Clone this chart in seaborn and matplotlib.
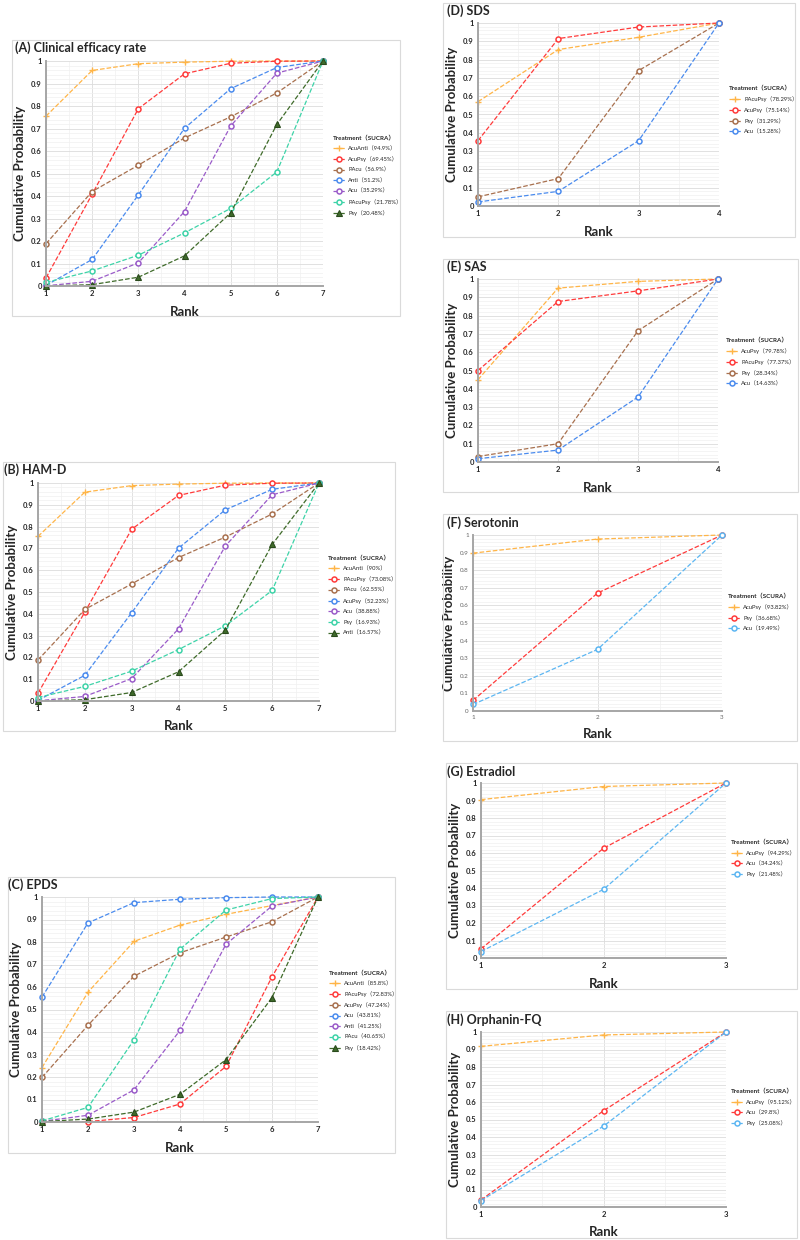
import numpy as np
import pandas as pd
import seaborn as sns
import matplotlib.pyplot as plt
from matplotlib.patches import Rectangle
from matplotlib.ticker import MultipleLocator, FormatStrFormatter

# ---- data (cumulative rank probabilities) ----
ranks7 = [1, 2, 3, 4, 5, 6, 7]
ranks4 = [1, 2, 3, 4]
ranks3 = [1, 2, 3]

# (A) clinical efficacy rate / (B) HAM-D share the same curves
eff_acuanti = [0.755, 0.958, 0.988, 0.995, 0.999, 1.0, 1.0]
eff_acupsy = [0.036, 0.408, 0.788, 0.943, 0.990, 0.999, 1.0]
eff_pacu = [0.188, 0.420, 0.537, 0.658, 0.752, 0.858, 1.0]
eff_anti = [0.003, 0.118, 0.405, 0.701, 0.877, 0.971, 1.0]
eff_acu = [0.001, 0.021, 0.103, 0.331, 0.711, 0.946, 1.0]
eff_pacupsy = [0.016, 0.067, 0.137, 0.236, 0.345, 0.507, 1.0]
eff_psy = [0.0, 0.006, 0.039, 0.134, 0.325, 0.718, 1.0]
labels_a = ['AcuAnti（94.9%）', 'AcuPsy（69.45%）', 'PAcu（56.9%）', 'Anti（51.2%）',
            'Acu（35.29%）', 'PAcuPsy（21.78%）', 'Psy（20.48%）']
labels_b = ['AcuAnti（90%）', 'PAcuPsy（73.08%）', 'PAcu（62.55%）', 'AcuPsy（52.23%）',
            'Acu（38.88%）', 'Psy（16.93%）', 'Anti（16.57%）']

# (C) EPDS
epds_acuanti = [0.242, 0.577, 0.803, 0.875, 0.923, 0.962, 1.0]
epds_pacupsy = [0.0, 0.002, 0.020, 0.080, 0.247, 0.645, 1.0]
epds_acupsy = [0.198, 0.430, 0.648, 0.752, 0.822, 0.890, 1.0]
epds_acu = [0.555, 0.885, 0.975, 0.990, 0.997, 1.0, 1.0]
epds_anti = [0.003, 0.030, 0.143, 0.407, 0.790, 0.960, 1.0]
epds_pacu = [0.005, 0.065, 0.365, 0.768, 0.942, 0.993, 1.0]
epds_psy = [0.002, 0.013, 0.044, 0.123, 0.277, 0.553, 1.0]
labels_c = ['AcuAnti（85.8%）', 'PAcuPsy（72.83%）', 'AcuPsy（47.24%）', 'Acu（43.81%）',
            'Anti（41.25%）', 'PAcu（40.65%）', 'Psy（18.42%）']

# (D) SDS
sds_pacupsy = [0.57, 0.855, 0.922, 1.0]
sds_acupsy = [0.357, 0.915, 0.978, 1.0]
sds_psy = [0.05, 0.15, 0.74, 1.0]
sds_acu = [0.022, 0.08, 0.357, 1.0]
labels_d = ['PAcuPsy（78.29%）', 'AcuPsy（75.14%）', 'Psy（31.29%）', 'Acu（15.28%）']

# (E) SAS
sas_acupsy = [0.45, 0.95, 0.987, 1.0]
sas_pacupsy = [0.50, 0.877, 0.935, 1.0]
sas_psy = [0.03, 0.10, 0.717, 1.0]
sas_acu = [0.018, 0.065, 0.355, 1.0]
labels_e = ['AcuPsy（79.78%）', 'PAcuPsy（77.37%）', 'Psy（28.34%）', 'Acu（14.63%）']

# (F) Serotonin
ser_acupsy = [0.897, 0.977, 1.0]
ser_psy = [0.06, 0.67, 1.0]
ser_acu = [0.037, 0.35, 1.0]
labels_f = ['AcuPsy（93.82%）', 'Psy（36.68%）', 'Acu（19.49%）']

# (G) Estradiol
est_acupsy = [0.905, 0.98, 1.0]
est_acu = [0.052, 0.627, 1.0]
est_psy = [0.037, 0.392, 1.0]
labels_g = ['AcuPsy（94.29%）', 'Acu（34.24%）', 'Psy（21.48%）']

# (H) Orphanin-FQ
orf_acupsy = [0.918, 0.983, 1.0]
orf_acu = [0.04, 0.55, 1.0]
orf_psy = [0.037, 0.462, 1.0]
labels_h = ['AcuPsy（95.12%）', 'Acu（29.8%）', 'Psy（25.08%）']

ORANGE = '#FFB547'
RED = '#FF3B3B'
BROWN = '#A8704E'
BLUE = '#4A8BEE'
PURPLE = '#9A5BC9'
TEAL = '#3DD3A8'
GREEN = '#3F6B2A'
LBLUE = '#5CB6F2'

sns.set_style('white')
plt.rcParams['font.family'] = ['Lato', 'Noto Sans CJK SC', 'DejaVu Sans']

W, H = 800, 1240
fig = plt.figure(figsize=(8, 12.4), dpi=100)


def fx(px):
    return px / W


def fy(py):
    return 1 - py / H


def panel(box, rect, title, title_xy, ranks, series, labels, colors, markers,
          leg_xy, leg_title, light_ticks=False):
    bx0, by0, bx1, by1 = box
    fig.patches.append(Rectangle((fx(bx0), fy(by1)), fx(bx1 - bx0), (by1 - by0) / H,
                                 transform=fig.transFigure, fill=False,
                                 edgecolor='#DADADA', linewidth=0.8))
    fig.text(fx(title_xy[0]), fy(title_xy[1]), title, fontsize=9, fontweight='bold',
             va='center', ha='left')
    l, t, r, b = rect
    ax = fig.add_axes([fx(l), fy(b), fx(r - l), (b - t) / H])
    for vals, lab, col, mk in zip(series, labels, colors, markers):
        df = pd.DataFrame({'Rank': ranks, 'p': vals})
        if mk == '+':
            kw = dict(marker='+', markersize=5, markeredgewidth=1.0,
                      markeredgecolor=col)
        elif mk == '^':
            kw = dict(marker='^', markersize=3.8, markerfacecolor=col,
                      markeredgecolor='#2A4A1C', markeredgewidth=0.8)
        else:
            kw = dict(marker='o', markersize=3.6, markerfacecolor='white',
                      markeredgecolor=col, markeredgewidth=1.1)
        sns.lineplot(data=df, x='Rank', y='p', ax=ax, color=col, linestyle='--',
                     linewidth=0.9, label=lab, clip_on=False, **kw)
    ax.set_xlim(ranks[0], ranks[-1])
    ax.set_ylim(0, 1)
    ax.xaxis.set_major_locator(MultipleLocator(1))
    ax.xaxis.set_minor_locator(MultipleLocator(0.5))
    ax.yaxis.set_major_locator(MultipleLocator(0.1))
    ax.yaxis.set_minor_locator(MultipleLocator(0.02))
    ax.yaxis.set_major_formatter(FormatStrFormatter('%g'))
    ax.grid(which='major', color='#DCDCDC', linewidth=0.6)
    ax.grid(which='minor', color='#F0F0F0', linewidth=0.5)
    ax.set_axisbelow(True)
    for s in ['top', 'right']:
        ax.spines[s].set_visible(False)
    for s in ['left', 'bottom']:
        ax.spines[s].set_color('#A6A6A6')
        ax.spines[s].set_linewidth(1.4)
    if light_ticks:
        ax.tick_params(axis='both', labelsize=4.5, labelcolor='#666666', length=0, pad=3)
    else:
        ax.tick_params(axis='both', labelsize=5.5, length=0, pad=3)
        for lb in ax.get_xticklabels() + ax.get_yticklabels():
            lb.set_fontweight('bold')
    ax.set_xlabel('Rank', fontsize=9.5, fontweight='bold', labelpad=6)
    ax.set_ylabel('Cumulative Probability', fontsize=9.5, fontweight='bold', labelpad=4)
    leg = ax.legend(loc='upper left', bbox_to_anchor=(fx(leg_xy[0]), fy(leg_xy[1])),
                    bbox_transform=fig.transFigure, frameon=False, fontsize=4.2,
                    title=leg_title, title_fontsize=4.5, alignment='left',
                    handlelength=2.2, handletextpad=0.4, labelspacing=0.85,
                    borderaxespad=0, borderpad=0)
    leg.get_title().set_fontweight('bold')
    return ax


cols7 = [ORANGE, RED, BROWN, BLUE, PURPLE, TEAL, GREEN]
mk7 = ['+', 'o', 'o', 'o', 'o', 'o', '^']
cols4 = [ORANGE, RED, BROWN, BLUE]
mk4 = ['+', 'o', 'o', 'o']
cols3 = [ORANGE, RED, LBLUE]
mk3 = ['+', 'o', 'o']

panel((12, 40, 400, 316), (46, 61, 323, 286), '(A) Clinical efficacy rate', (15, 48),
      ranks7, [eff_acuanti, eff_acupsy, eff_pacu, eff_anti, eff_acu, eff_pacupsy, eff_psy],
      labels_a, cols7, mk7, (333, 135), 'Treatment（SUCRA）')

panel((3, 462, 395, 731), (38, 483, 319, 701), '(B) HAM-D', (4, 470),
      ranks7, [eff_acuanti, eff_acupsy, eff_pacu, eff_anti, eff_acu, eff_pacupsy, eff_psy],
      labels_b, cols7, mk7, (328, 555), 'Treatment（SUCRA）')

panel((8, 877, 395, 1153), (42, 897, 318, 1122), '(C) EPDS', (8, 885),
      ranks7, [epds_acuanti, epds_pacupsy, epds_acupsy, epds_acu, epds_anti, epds_pacu, epds_psy],
      labels_c, cols7, mk7, (329, 970), 'Treatment（SUCRA）')

panel((443, 3, 795, 237), (478, 23, 719, 206), '(D) SDS', (447, 11),
      ranks4, [sds_pacupsy, sds_acupsy, sds_psy, sds_acu],
      labels_d, cols4, mk4, (729, 85), 'Treatment（SUCRA）')

panel((443, 259, 798, 492), (478, 279, 718, 462), '(E) SAS', (447, 267),
      ranks4, [sas_acupsy, sas_pacupsy, sas_psy, sas_acu],
      labels_e, cols4, mk4, (726, 337), 'Treatment（SUCRA）')

panel((443, 514, 797, 741), (473, 535, 722, 711), '(F) Serotonin', (447, 523),
      ranks3, [ser_acupsy, ser_psy, ser_acu],
      labels_f, cols3, mk3, (728, 593), 'Treatment（SCURA）', light_ticks=True)

panel((446, 763, 797, 989), (481, 783, 726, 958), '(G) Estradiol', (447, 772),
      ranks3, [est_acupsy, est_acu, est_psy],
      labels_g, cols3, mk3, (731, 839), 'Treatment（SCURA）')

panel((446, 1011, 797, 1238), (481, 1032, 726, 1207), '(H) Orphanin-FQ', (447, 1020),
      ranks3, [orf_acupsy, orf_acu, orf_psy],
      labels_h, cols3, mk3, (731, 1088), 'Treatment（SCURA）')

fig.savefig('out.png', dpi=100, facecolor='white')
